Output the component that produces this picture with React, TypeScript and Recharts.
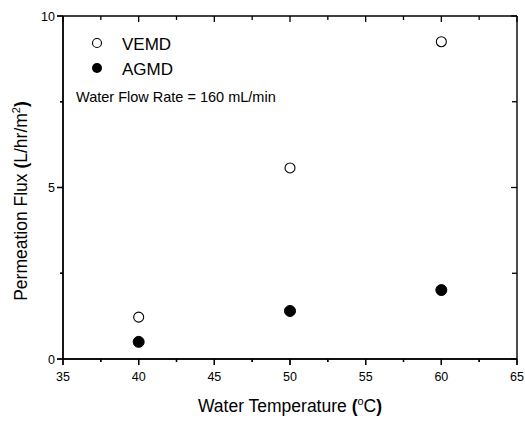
import React from "react";
import { ScatterChart, Scatter, XAxis, YAxis } from "recharts";

const temperatures = [40, 50, 60];
const vemdFlux = [1.22, 5.57, 9.25];
const agmdFlux = [0.5, 1.4, 2.01];
const xTicks = [35, 37.5, 40, 42.5, 45, 47.5, 50, 52.5, 55, 57.5, 60, 62.5, 65];
const xMajor = [35, 40, 45, 50, 55, 60, 65];
const yTicks = [0, 2.5, 5, 7.5, 10];
const yMajor = [0, 5, 10];
const xDomain = [35, 65];
const yDomain = [0, 10];
const seriesNames = ["VEMD", "AGMD"];
const annotation = "Water Flow Rate = 160 mL/min";

const vemdData = temperatures.map((t, i) => ({ x: t, y: vemdFlux[i] }));
const agmdData = temperatures.map((t, i) => ({ x: t, y: agmdFlux[i] }));

const FONT = "'Liberation Sans', Arial, sans-serif";
const W = 525;
const H = 421;
const MARGIN = { top: 16, right: 8, bottom: 0, left: 0 };
const Y_AXIS_W = 63;
const X_AXIS_H = 62;
const PLOT = {
  left: MARGIN.left + Y_AXIS_W,
  right: W - MARGIN.right,
  top: MARGIN.top,
  bottom: H - MARGIN.bottom - X_AXIS_H,
};
const px = (v: number) => PLOT.left + ((v - xDomain[0]) / (xDomain[1] - xDomain[0])) * (PLOT.right - PLOT.left);
const py = (v: number) => PLOT.bottom - ((v - yDomain[0]) / (yDomain[1] - yDomain[0])) * (PLOT.bottom - PLOT.top);

const BottomTick = (props: any) => {
  const { x, y, payload } = props;
  const major = xMajor.includes(payload.value);
  return (
    <g>
      <line x1={x} y1={y} x2={x} y2={y + (major ? 6 : 3)} stroke="#000" strokeWidth={1.3} />
      {major && (
        <text x={x} y={y + 22} textAnchor="middle" fontSize={12.5} fontFamily={FONT} fill="#000">
          {payload.value}
        </text>
      )}
    </g>
  );
};

const LeftTick = (props: any) => {
  const { x, y, payload } = props;
  const major = yMajor.includes(payload.value);
  return (
    <g>
      <line x1={x} y1={y} x2={x - (major ? 6 : 3)} y2={y} stroke="#000" strokeWidth={1.3} />
      {major && (
        <text x={x - 8} y={y + 4.5} textAnchor="end" fontSize={12.5} fontFamily={FONT} fill="#000">
          {payload.value}
        </text>
      )}
    </g>
  );
};

const OpenCircle = (props: any) => (
  <circle cx={props.cx} cy={props.cy} r={5} fill="#fff" stroke="#000" strokeWidth={1.1} />
);
const FilledCircle = (props: any) => (
  <circle cx={props.cx} cy={props.cy} r={5.5} fill="#000" stroke="#000" strokeWidth={1} />
);

const Frame = () => (
  <g stroke="#000" strokeWidth={1.3} fill="none">
    <line x1={PLOT.left} y1={PLOT.top} x2={PLOT.right} y2={PLOT.top} strokeWidth={1.4} />
    <line x1={PLOT.right} y1={PLOT.top} x2={PLOT.right} y2={PLOT.bottom} strokeWidth={1.4} />
    <line x1={PLOT.left} y1={PLOT.top} x2={PLOT.left} y2={PLOT.bottom} strokeWidth={1.4} />
    <line x1={PLOT.left} y1={PLOT.bottom} x2={PLOT.right} y2={PLOT.bottom} strokeWidth={1.4} />
    {xTicks.map((v) => {
      const major = xMajor.includes(v);
      return (
        <g key={"xt" + v}>
          <line x1={px(v)} y1={PLOT.top} x2={px(v)} y2={PLOT.top + (major ? 6 : 4)} />
          <line x1={px(v)} y1={PLOT.bottom} x2={px(v)} y2={PLOT.bottom + (major ? 6 : 3)} />
        </g>
      );
    })}
    {yTicks.map((v) => {
      const major = yMajor.includes(v);
      return (
        <g key={"yt" + v}>
          <line x1={PLOT.right} y1={py(v)} x2={PLOT.right - (major ? 6 : 5)} y2={py(v)} />
          <line x1={PLOT.left} y1={py(v)} x2={PLOT.left - (major ? 6 : 3)} y2={py(v)} />
        </g>
      );
    })}
  </g>
);

const Annotations = () => (
  <g>
    <Frame />
    <circle cx={97} cy={43} r={4.5} fill="#fff" stroke="#000" strokeWidth={1.1} />
    <text x={122} y={49.5} fontSize={17} fontFamily={FONT} fill="#000">{seriesNames[0]}</text>
    <circle cx={97} cy={68} r={5} fill="#000" />
    <text x={122} y={74.5} fontSize={17} fontFamily={FONT} fill="#000">{seriesNames[1]}</text>
    <text x={76} y={102} fontSize={14.5} fontFamily={FONT} fill="#000">{annotation}</text>
    <text x={290} y={411.5} textAnchor="middle" fontSize={17.5} fontFamily={FONT} fill="#000">
      <tspan>Water Temperature </tspan>
      <tspan fontWeight="bold">(</tspan>
      <tspan dy={-7} fontSize={11}>o</tspan>
      <tspan dy={7}>C</tspan>
      <tspan fontWeight="bold">)</tspan>
    </text>
    <text transform="translate(27,201) rotate(-90)" textAnchor="middle" fontSize={17.5} fontFamily={FONT} fill="#000">
      <tspan>Permeation Flux </tspan>
      <tspan fontWeight="bold">(</tspan>
      <tspan>L/hr/m</tspan>
      <tspan dy={-7} fontSize={11}>2</tspan>
      <tspan dy={7} fontWeight="bold">)</tspan>
    </text>
  </g>
);

export default function App() {
  return (
    <div style={{ position: "absolute", left: 0, top: 0, width: W, height: H, overflow: "hidden" }}>
      <ScatterChart width={W} height={H} margin={MARGIN}>
        <XAxis
          type="number"
          dataKey="x"
          domain={xDomain}
          ticks={xTicks}
          interval={0}
          height={X_AXIS_H}
          tickSize={0}
          tickMargin={0}
          tickLine={false}
          tick={<BottomTick />}
          axisLine={{ stroke: "#000", strokeWidth: 1.4 }}
        />
        <YAxis
          type="number"
          dataKey="y"
          domain={yDomain}
          ticks={yTicks}
          interval={0}
          width={Y_AXIS_W}
          tickSize={0}
          tickMargin={0}
          tickLine={false}
          tick={<LeftTick />}
          axisLine={{ stroke: "#000", strokeWidth: 1.4 }}
        />
        <Scatter name={seriesNames[0]} data={vemdData} shape={<OpenCircle />} isAnimationActive={false} />
        <Scatter name={seriesNames[1]} data={agmdData} shape={<FilledCircle />} isAnimationActive={false} />
        <Annotations />
      </ScatterChart>
    </div>
  );
}
